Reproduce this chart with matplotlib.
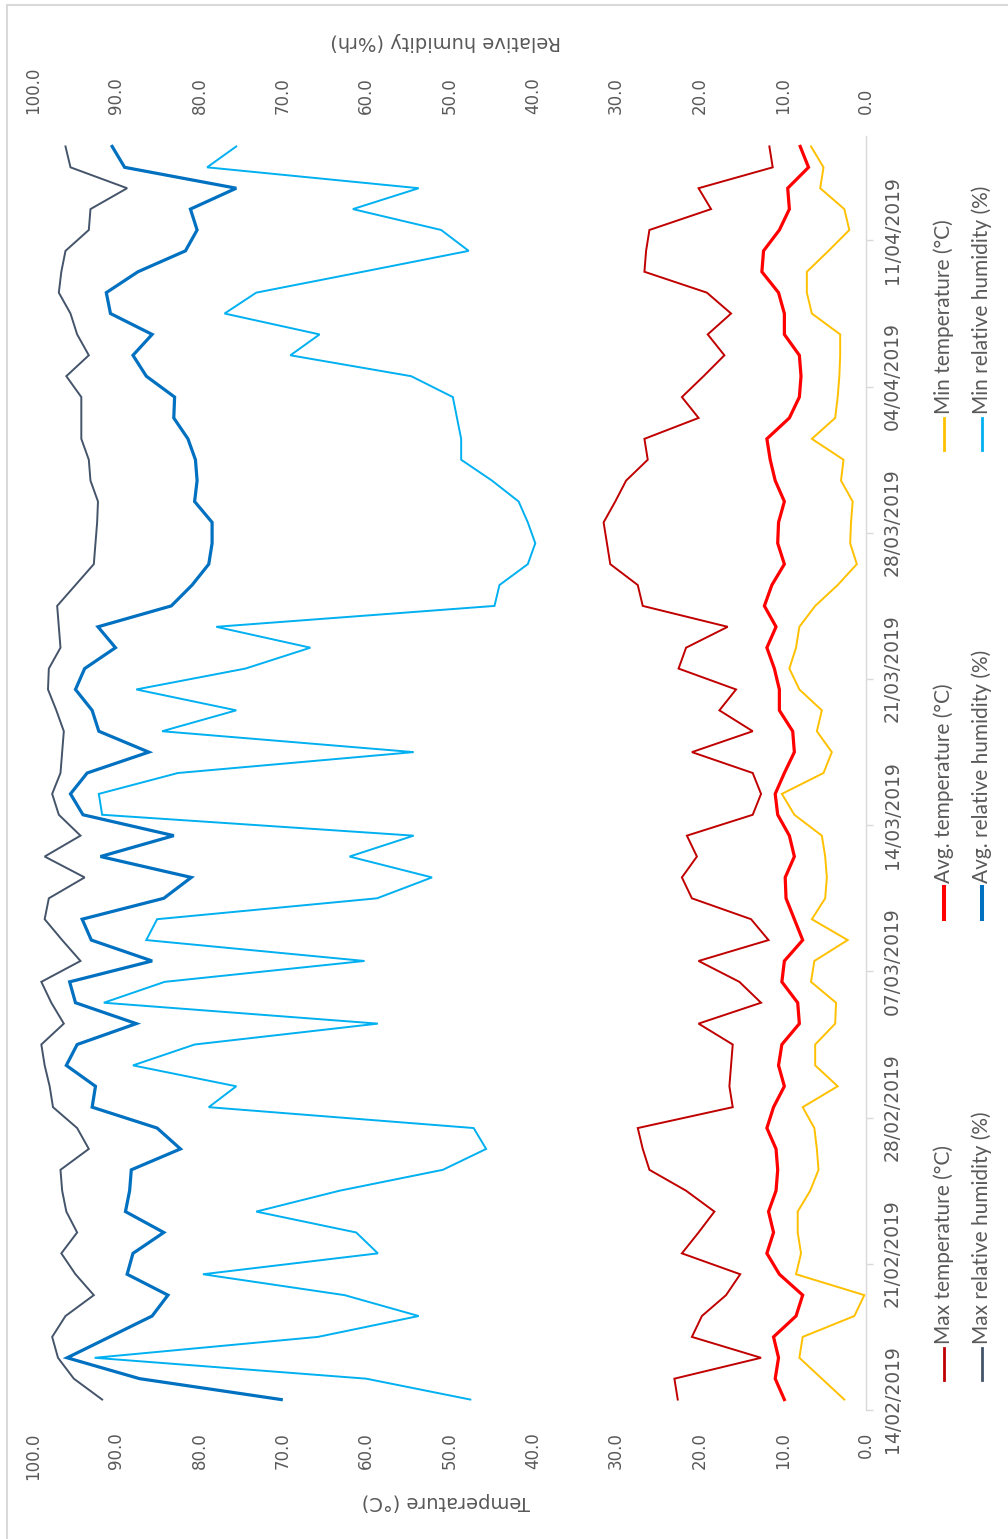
import numpy as np
import pandas as pd
import matplotlib
matplotlib.use('Agg')
import matplotlib.pyplot as plt
from matplotlib.lines import Line2D
from matplotlib.patches import Rectangle

# daily weather record, 14/02/2019 - 15/04/2019
dates = pd.date_range('2019-02-14', periods=61, freq='D')

max_temp = [22.6, 23.0, 12.6, 20.9, 19.7, 16.8, 15.1, 22.1, 20.1, 18.2,
            21.6, 26.0, 26.8, 27.4, 16.0, 16.4, 16.2, 16.0, 20.1, 12.6,
            15.2, 20.1, 11.7, 13.8, 20.9, 22.1, 20.3, 21.5, 13.6, 12.6,
            13.6, 20.9, 13.6, 17.6, 15.6, 22.5, 21.6, 16.6, 26.8, 27.4,
            30.7, 31.1, 31.5, 30.1, 28.8, 26.2, 26.6, 20.1, 22.1, 19.5,
            17.0, 19.0, 16.2, 19.1, 26.6, 26.4, 26.0, 18.6, 20.1, 11.2, 11.6]
avg_temp = [9.8, 10.9, 10.5, 11.1, 8.4, 7.6, 10.4, 11.9, 11.1, 11.7,
            10.8, 10.6, 10.8, 11.9, 11.1, 9.8, 10.5, 10.1, 8.0, 8.2,
            10.1, 9.8, 7.6, 8.6, 9.6, 9.7, 8.6, 9.2, 10.6, 10.9,
            9.8, 8.6, 8.8, 10.4, 10.4, 11.0, 11.9, 10.8, 12.2, 11.3,
            9.8, 10.6, 10.5, 9.8, 10.9, 11.5, 11.9, 9.2, 8.0, 7.8,
            8.0, 9.8, 9.8, 10.5, 12.5, 12.3, 10.4, 9.2, 9.4, 6.9, 7.9]
min_temp = [2.6, 5.3, 8.0, 7.6, 1.4, 0.2, 8.4, 7.8, 8.2, 8.2,
            6.7, 5.7, 5.9, 6.2, 7.6, 3.4, 6.1, 6.1, 3.7, 3.6,
            6.6, 6.2, 2.2, 6.5, 4.9, 4.7, 4.9, 5.3, 8.6, 10.1,
            5.1, 4.1, 5.9, 5.3, 8.0, 9.2, 8.4, 8.0, 6.1, 3.4,
            1.1, 1.9, 1.8, 1.6, 3.0, 2.7, 6.5, 3.7, 3.4, 3.2,
            3.1, 3.1, 6.5, 7.1, 7.1, 4.5, 2.0, 2.6, 5.5, 5.1, 6.6]
max_rh = [91.7, 95.1, 97.0, 97.7, 96.1, 92.7, 94.9, 96.6, 94.7, 96.0,
          96.5, 96.7, 93.3, 94.7, 97.6, 98.0, 98.6, 99.0, 96.3, 97.8,
          99.0, 94.3, 96.5, 98.6, 98.1, 93.8, 98.6, 94.3, 96.9, 97.7,
          96.7, 96.5, 96.3, 97.2, 98.2, 98.1, 96.7, 96.9, 97.1, 94.9,
          92.7, 92.5, 92.3, 92.2, 93.1, 93.3, 94.2, 94.2, 94.2, 96.0,
          93.3, 94.7, 95.5, 96.9, 96.6, 96.1, 93.3, 93.1, 88.7, 95.5, 96.1]
avg_rh = [70.2, 87.2, 95.9, 90.8, 85.7, 83.8, 88.7, 88.0, 84.3, 88.9,
          88.4, 88.2, 82.3, 85.1, 92.9, 92.5, 96.0, 94.7, 87.6, 94.9,
          95.6, 85.7, 93.0, 94.1, 84.3, 81.0, 91.9, 83.1, 94.0, 95.5,
          93.5, 86.1, 92.1, 92.9, 94.9, 93.8, 90.1, 92.2, 83.4, 80.9,
          78.9, 78.5, 78.5, 80.6, 80.3, 80.5, 81.4, 83.1, 83.0, 86.4,
          88.0, 85.7, 90.7, 91.2, 87.4, 81.7, 80.3, 81.1, 75.6, 89.0, 90.5]
min_rh = [47.5, 60.0, 92.6, 65.8, 53.7, 62.6, 79.6, 58.6, 61.2, 73.2,
          63.2, 50.8, 45.6, 47.1, 78.9, 75.6, 88.0, 80.6, 58.6, 91.5,
          84.2, 60.2, 86.4, 85.1, 58.7, 52.1, 62.0, 54.3, 91.7, 92.1,
          82.6, 54.3, 84.5, 75.6, 87.6, 74.5, 66.7, 78.0, 44.6, 44.0,
          40.6, 39.7, 40.6, 41.7, 44.9, 48.6, 48.6, 49.1, 49.6, 54.6,
          69.1, 65.6, 77.0, 73.2, 60.4, 47.7, 51.0, 61.6, 53.7, 79.1, 75.6]

value_ticks = np.arange(0, 101, 10)

# (label, values, colour, width, legend column, legend start in px from top)
series = [
    ('Max temperature (°C)', max_temp, '#C00000', 1.4, 0, 1380),
    ('Avg. temperature (°C)', avg_temp, '#FF0000', 2.3, 0, 919),
    ('Min temperature (°C)', min_temp, '#FFC000', 1.4, 0, 450),
    ('Max relative humidity (%)', max_rh, '#44546A', 1.4, 1, 1380),
    ('Avg. relative humidity (%)', avg_rh, '#0070C0', 2.3, 1, 919),
    ('Min relative humidity (%)', min_rh, '#00B0F0', 1.4, 1, 450),
]

W, H = 1008, 1539
grey_txt = '#595959'
grey_line = '#d9d9d9'

fig = plt.figure(figsize=(W / 100, H / 100), dpi=100)
ax = fig.add_axes([33 / W, 129 / H, 833 / W, 1274 / H])

for name, vals, col, lw, _, _ in series:
    ax.plot(vals, dates, color=col, lw=lw, solid_joinstyle='miter')

half = pd.Timedelta(hours=12)
ax.set_xlim(100, 0)
ax.set_ylim(dates[0] - half, dates[-1] + half)

for s in ['left', 'top', 'bottom']:
    ax.spines[s].set_visible(False)
ax.spines['right'].set_color(grey_line)
ax.spines['right'].set_linewidth(1.0)

# value axes: temperature below, humidity above
ax.set_xticks(value_ticks)
ax.set_xticklabels([f'{v:.1f}' for v in value_ticks])
ax.tick_params(axis='x', length=0, pad=16, labelsize=12, labelcolor=grey_txt,
               labelrotation=90)
top = ax.secondary_xaxis('top')
top.set_xticks(value_ticks)
top.set_xticklabels([f'{v:.1f}' for v in value_ticks])
top.tick_params(axis='x', length=0, pad=16, labelsize=12, labelcolor=grey_txt,
                labelrotation=90)
top.spines['top'].set_visible(False)

# date axis on the right, labels on every 7th day, marks between days
ax.yaxis.set_ticks_position('right')
ax.set_yticks(dates[::7])
ax.set_yticklabels([d.strftime('%d/%m/%Y') for d in dates[::7]])
ax.set_yticks(dates[::7] - half, minor=True)
ax.tick_params(axis='y', which='major', length=0, pad=12, labelsize=13.5,
               labelcolor=grey_txt)
ax.tick_params(axis='y', which='minor', length=5, width=1, color=grey_line,
               direction='out')
for lab in ax.get_yticklabels():
    lab.set_rotation(90)
    lab.set_va('center')
    lab.set_ha('left')

narrow = ['Liberation Sans Narrow', 'DejaVu Sans']
fig.text(446 / W, 1 - 1501 / H, 'Temperature (°C)', rotation=180,
         ha='center', va='center', fontsize=14, color=grey_txt, family=narrow)
fig.text(446 / W, 1 - 42 / H, 'Relative humidity (%rh)', rotation=180,
         ha='center', va='center', fontsize=14, color=grey_txt, family=narrow)

# legend drawn by hand, rotated with the plot
col_x = [944, 982]
for name, vals, col, lw, c, y0 in series:
    x = col_x[c] / W
    fig.add_artist(Line2D([x, x], [1 - y0 / H, 1 - (y0 - 32) / H],
                          color=col, lw=lw + 0.6, transform=fig.transFigure))
    fig.text(x, 1 - (y0 - 36) / H, name, rotation=90, rotation_mode='anchor',
             ha='left', va='center', fontsize=15, color=grey_txt,
             family=['Lato', 'DejaVu Sans'])

# chart frame
fig.add_artist(Rectangle((7 / W, -0.01), 1.02, 1 - 5 / H + 0.01, fill=False,
                         edgecolor=grey_line, lw=1.5,
                         transform=fig.transFigure))

fig.savefig('out.png', dpi=100)
